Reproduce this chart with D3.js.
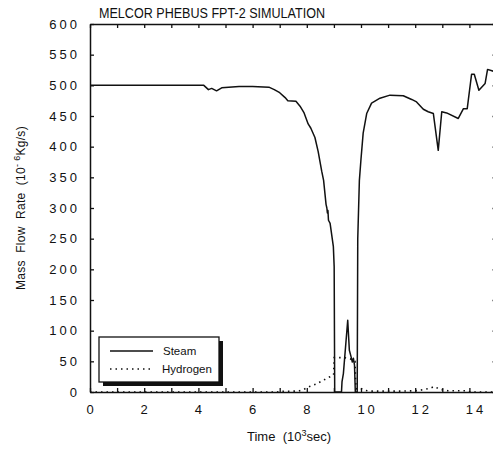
<!DOCTYPE html>
<html>
<head>
<meta charset="utf-8">
<script src="https://cdn.jsdelivr.net/npm/d3@7"></script>
<style>
  body { margin: 0; background: #fff; }
  svg text { font-family: "Liberation Sans", Arial, sans-serif; fill: #111; white-space: pre; }
</style>
</head>
<body>
<svg id="chart" width="493" height="451"></svg>
<script>
// values (time in 10^3 s, flow in 10^-6 kg/s)
const steamTime = [0, 4.2, 4.37, 4.49, 4.67, 4.86, 5.5, 6.0, 6.6, 6.8, 7.0, 7.2, 7.3, 7.6, 7.75, 7.9, 8.05, 8.15, 8.3, 8.42, 8.55, 8.62, 8.71, 8.74, 8.76, 8.78, 8.8, 8.86, 8.98, 9.01, 9.03,
  9.28, 9.3, 9.35, 9.51, 9.57, 9.63, 9.68, 9.72, 9.76, 9.79, 9.86, 9.88, 9.94, 10.0, 10.08, 10.21, 10.39, 10.7, 11.07, 11.56, 11.87, 12.05, 12.3, 12.48, 12.67, 12.85, 12.98, 13.16, 13.59, 13.78, 13.92, 14.08, 14.18, 14.35, 14.58, 14.67, 14.88, 15.0];
const steamFlow = [500, 500, 493, 495, 491, 496, 498, 498, 497, 493, 488, 480, 475, 474, 466, 455, 437, 430, 415, 392, 360, 345, 306, 300, 292, 296, 280, 275, 237, 204, 0,
  0, 17, 30, 117, 68, 58, 49, 55, 44, 0, 0, 250, 345, 380, 422, 454, 471, 479, 484, 483, 477, 473, 461, 457, 454, 394, 457, 455, 446, 462, 462, 518, 518, 492, 503, 526, 523, 524];

const h2Time = [0, 6.9, 7.0, 7.7, 7.9, 8.1, 8.35, 8.6, 8.86, 8.99, 9.01, 9.4, 9.6, 9.78, 9.8, 9.82, 9.95, 10.1, 10.3, 11.5, 12.0, 12.2, 12.55, 12.7, 12.9, 13.2, 13.9, 14.05, 15.0];
const h2Flow = [0, 0, 1, 1.5, 4.5, 9, 13, 19, 25, 28, 56, 56, 54, 50, 20, 5, 7, 3, 1.5, 1.5, 2, 3, 6, 9, 4.5, 2, 2, 0, 0];

const xTicks = d3.range(0, 16);
const xLabels = [0, 2, 4, 6, 8, 10, 12, 14];
const yTicks = d3.range(0, 601, 50);

const svg = d3.select("#chart");
const box = {left: 90, right: 496.5, top: 24, bottom: 392};

const x = d3.scaleLinear().domain([0, 15]).range([box.left, box.right]);
const y = d3.scaleLinear().domain([0, 600]).range([box.bottom, box.top]);

// frame with inward ticks
function frame(axis, tx, ty) {
  const g = svg.append("g").attr("transform", `translate(${tx},${ty})`).call(axis);
  g.selectAll("text").remove();
  g.select(".domain").attr("stroke", "#111").attr("stroke-width", 1.5);
  g.selectAll(".tick line").attr("stroke", "#111").attr("stroke-width", 1.3);
  return g;
}
frame(d3.axisBottom(x).tickValues(xTicks).tickSizeInner(-4).tickSizeOuter(0), 0, box.bottom);
frame(d3.axisTop(x).tickValues(xTicks).tickSizeInner(-4).tickSizeOuter(0), 0, box.top);
frame(d3.axisLeft(y).tickValues(yTicks).tickSizeInner(-4).tickSizeOuter(0), box.left, 0);
frame(d3.axisRight(y).tickValues(yTicks).tickSizeInner(-4).tickSizeOuter(0), box.right, 0);

// tick labels, spaced like the plotter font
svg.append("g").selectAll("text")
  .data(yTicks)
  .enter().append("text")
    .attr("x", 80)
    .attr("y", d => y(d) + 4.5)
    .attr("text-anchor", "end")
    .attr("font-size", 13)
    .attr("letter-spacing", 3)
    .text(d => d);

svg.append("g").selectAll("text")
  .data(xLabels)
  .enter().append("text")
    .attr("x", d => x(d) - 3.6)
    .attr("y", 414)
    .attr("font-size", 13)
    .attr("letter-spacing", 3)
    .text(d => d);

svg.append("text")
  .attr("x", 99).attr("y", 18)
  .attr("font-size", 14)
  .attr("textLength", 226).attr("lengthAdjust", "spacingAndGlyphs")
  .text("MELCOR PHEBUS FPT-2 SIMULATION");

let xt = svg.append("text")
  .attr("x", 247).attr("y", 441)
  .attr("font-size", 13);
xt.append("tspan").text("Time  (10");
xt.append("tspan").attr("font-size", 9).attr("dy", -5).text("3");
xt.append("tspan").attr("dy", 5).text("sec)");

let yt = svg.append("text")
  .attr("transform", "translate(25,208) rotate(-90)")
  .attr("text-anchor", "middle")
  .attr("font-size", 12)
  .attr("letter-spacing", 0.3);
yt.append("tspan").text("Mass  Flow  Rate  (10");
yt.append("tspan").attr("font-size", 9).attr("dy", -5).text("- 6");
yt.append("tspan").attr("dy", 5).text("Kg/s)");

// series
const line = d3.line().x(d => x(d[0])).y(d => y(d[1]));

svg.append("path")
  .datum(d3.zip(steamTime, steamFlow))
  .attr("d", line)
  .attr("fill", "none")
  .attr("stroke", "#111")
  .attr("stroke-width", 1.5)
  .attr("stroke-linejoin", "round");

svg.append("path")
  .datum(d3.zip(h2Time, h2Flow))
  .attr("d", line)
  .attr("fill", "none")
  .attr("stroke", "#111")
  .attr("stroke-width", 1.6)
  .attr("stroke-dasharray", "1.5,4");

// legend with drop shadow
const leg = svg.append("g").attr("transform", "translate(99,337)");
leg.append("rect").attr("x", 4).attr("y", 4).attr("width", 120).attr("height", 45).attr("fill", "#111");
leg.append("rect").attr("width", 120).attr("height", 45).attr("fill", "#fff").attr("stroke", "#111").attr("stroke-width", 1.3);
leg.append("line").attr("x1", 11).attr("x2", 54).attr("y1", 14).attr("y2", 14).attr("stroke", "#111").attr("stroke-width", 1.3);
leg.append("line").attr("x1", 11).attr("x2", 54).attr("y1", 32).attr("y2", 32).attr("stroke", "#111").attr("stroke-width", 1.6).attr("stroke-dasharray", "1.5,4");
leg.append("text").attr("x", 64).attr("y", 18).attr("font-size", 11.5).text("Steam");
leg.append("text").attr("x", 63).attr("y", 36).attr("font-size", 11.5).text("Hydrogen");
</script>
</body>
</html>
